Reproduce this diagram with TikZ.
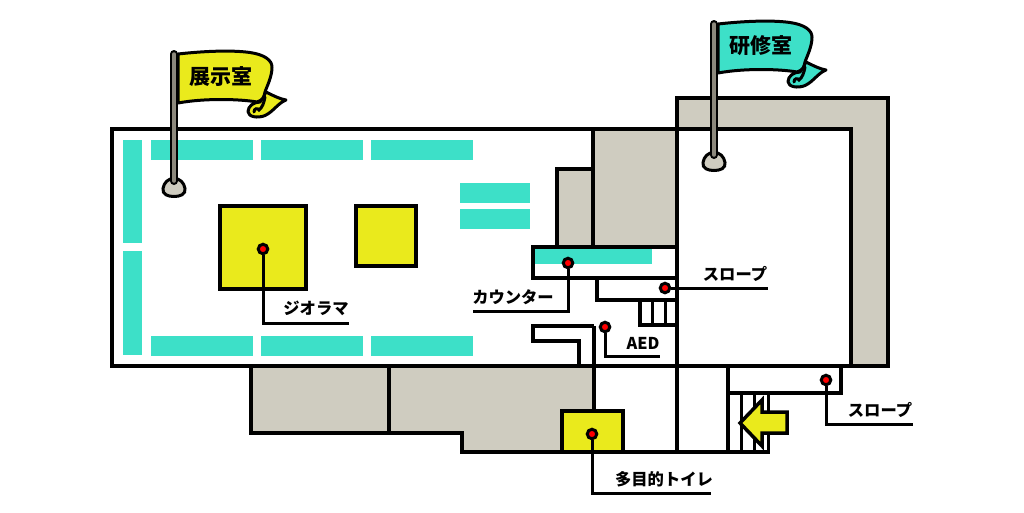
\documentclass[tikz,border=0pt]{standalone}
\usepackage{fontspec}
\setmainfont{Noto Sans CJK JP}
\definecolor{wallgrey}{HTML}{CFCCC0}
\definecolor{teal1}{HTML}{3DE0C8}
\definecolor{yel}{HTML}{EAEA1C}
\definecolor{polegrey}{HTML}{8C887C}
\tikzset{
  wall/.style={line width=3.8pt,draw=black,line cap=butt,line join=miter},
  thinwall/.style={line width=3pt,draw=black},
  greyblock/.style={wall,fill=wallgrey},
  yelblock/.style={wall,fill=yel},
  bar/.style={fill=teal1,draw=none},
  leader/.style={line width=3pt,draw=black},
  pin/.style={circle,fill=red,draw=black,line width=3pt,minimum size=9.5pt,inner sep=0pt},
  lab/.style={font=\bfseries\fontsize{16.3}{18}\selectfont,inner sep=0pt,text=black},
  flagtext/.style={font=\bfseries\fontsize{21}{23}\selectfont,inner sep=0pt,text=black},
}
\newcommand{\flagcloth}[1]{%
  \draw[line width=3pt,fill=#1,line join=round]
    (266,92) .. controls (274,96) and (280,99) .. (286,100)
    .. controls (278,103) and (273,112) .. (265,115.5)
    .. controls (258,118.5) and (248,117) .. (248,111.5)
    .. controls (248,106) and (254,102) .. (260,102) -- cycle;
  \draw[line width=3pt,line cap=round] (254,112) .. controls (254,108) and (258,108) .. (259,110)
    .. controls (262,108) and (264,103) .. (265,97);
  \draw[line width=3pt,fill=#1,line join=round]
    (178,54) .. controls (205,51) and (232,50) .. (250,52.5)
    .. controls (264,54.5) and (272,60) .. (272,67)
    .. controls (272,77) and (267,86) .. (265,92)
    .. controls (264,97) and (263,100) .. (257,102)
    .. controls (240,99) and (205,98) .. (178,103) -- cycle;
}
\newcommand{\flagbase}[2]{%
  \draw[line width=3pt,fill=wallgrey]
    (#1-11,#2-8) .. controls (#1-10,#2-14) and (#1-6,#2-18) .. (#1,#2-18)
    .. controls (#1+6,#2-18) and (#1+10,#2-14) .. (#1+11,#2-8)
    .. controls (#1+12,#2-2) and (#1+6,#2) .. (#1,#2)
    .. controls (#1-6,#2) and (#1-12,#2-2) .. (#1-11,#2-8) -- cycle;
}
\begin{document}
\begin{tikzpicture}[x=1pt,y=-1pt]
\useasboundingbox (0,0) rectangle (1024,512);
% grey areas
\fill[wallgrey] (677,98) -- (888,98) -- (888,366) -- (851,366) -- (851,129) -- (677,129) -- cycle;
\fill[wallgrey] (593,129) -- (677,129) -- (677,247) -- (557,247) -- (557,169) -- (593,169) -- cycle;
\fill[wallgrey] (251,366) -- (594,366) -- (594,411) -- (562,411) -- (562,452) -- (462,452) -- (462,433) -- (251,433) -- cycle;
% teal exhibits
\foreach \x in {151,261,371}{
  \fill[bar] (\x,140) rectangle (\x+102,160);
  \fill[bar] (\x,336) rectangle (\x+102,356);
}
\fill[bar] (123,140) rectangle (142,243);
\fill[bar] (123,251) rectangle (142,355);
\fill[bar] (460,183) rectangle (530,203);
\fill[bar] (460,209) rectangle (530,229);
\fill[bar] (535,249) rectangle (652,264);
% dioramas
\draw[yelblock] (220,206) rectangle (306,289);
\draw[yelblock] (356,206) rectangle (416,266);
\draw[yelblock] (562,411) rectangle (623,452);
% outer walls
\draw[wall] (677,129) -- (112,129) -- (112,366) -- (888,366) -- (888,98) -- (677,98) -- (677,452);
\draw[wall] (677,129) -- (851,129) -- (851,366);
\draw[wall] (593,129) -- (593,247);
\draw[wall] (557,247) -- (557,169) -- (593,169);
\draw[wall] (251,366) -- (251,433) -- (462,433) -- (462,452) -- (770,452);
\draw[wall] (389,366) -- (389,433);
\draw[wall] (594,326) -- (594,411);
% counter
\draw[wall] (677,247) -- (533,247) -- (533,278) -- (677,278);
\draw[wall] (597,278) -- (597,300) -- (677,300);
\draw[wall] (640,300) -- (640,325) -- (677,325);
\draw[thinwall] (652,300) -- (652,325);
\draw[thinwall] (665,300) -- (665,325);
\draw[wall] (594,326) -- (533,326) -- (533,341) -- (579,341) -- (579,366);
% entrance
\draw[wall] (728,366) -- (728,452);
\draw[wall] (728,393) -- (841,393) -- (841,366);
\draw[thinwall] (741,393) -- (741,452);
\draw[thinwall] (754,393) -- (754,452);
\draw[thinwall] (768,393) -- (768,452);
\draw[line width=3.5pt,fill=yel,line join=miter]
  (740,423) -- (762,400) -- (762,412) -- (787,412) -- (787,433) -- (762,433) -- (762,446) -- cycle;
% leaders and pins
\coordinate (c1) at (263,323);  \coordinate (e1) at (349,323);
\coordinate (c2) at (568,311);  \coordinate (e2) at (473,311);
\coordinate (e3) at (768,288);
\coordinate (c4) at (605,356);  \coordinate (e4) at (660,356);
\coordinate (c5) at (826,424);  \coordinate (e5) at (913,424);
\coordinate (c6) at (592,493);  \coordinate (e6) at (711,493);
\node[pin] (p1) at (263,249) {};
\node[pin] (p2) at (568,263) {};
\node[pin] (p3) at (665,288) {};
\node[pin] (p4) at (605,327) {};
\node[pin] (p5) at (826,380) {};
\node[pin] (p6) at (592,434) {};
\draw[leader] (p1) -- (c1) -- (e1);
\draw[leader] (p2) -- (c2) -- (e2);
\draw[leader] (p3) -- (e3);
\draw[leader] (p4) -- (c4) -- (e4);
\draw[leader] (p5) -- (c5) -- (e5);
\draw[leader] (p6) -- (c6) -- (e6);
\node[lab] (l1) at (316,308) {ジオラマ};
\node[lab] (l2) at (513,297) {カウンター};
\node[lab] (l3) at (735,274) {スロープ};
\node[lab] (l4) at (643,343) {AED};
\node[lab] (l5) at (880,410) {スロープ};
\node[lab] (l6) at (664,479) {多目的トイレ};
% flags
\flagbase{174}{196.5}
\flagcloth{yel}
\draw[line width=8pt,line cap=round] (174,54) -- (174,181);
\draw[line width=3.5pt,polegrey,line cap=round] (174,54) -- (174,181);
\node[flagtext] (f1) at (221,77) {展示室};
\flagbase{714}{170.5}
\begin{scope}[shift={(540pt,30pt)}]
  \flagcloth{teal1}
\end{scope}
\draw[line width=8pt,line cap=round] (714,24) -- (714,155);
\draw[line width=3.5pt,polegrey,line cap=round] (714,24) -- (714,155);
\node[flagtext] (f2) at (761,46) {研修室};
\end{tikzpicture}
\end{document}
